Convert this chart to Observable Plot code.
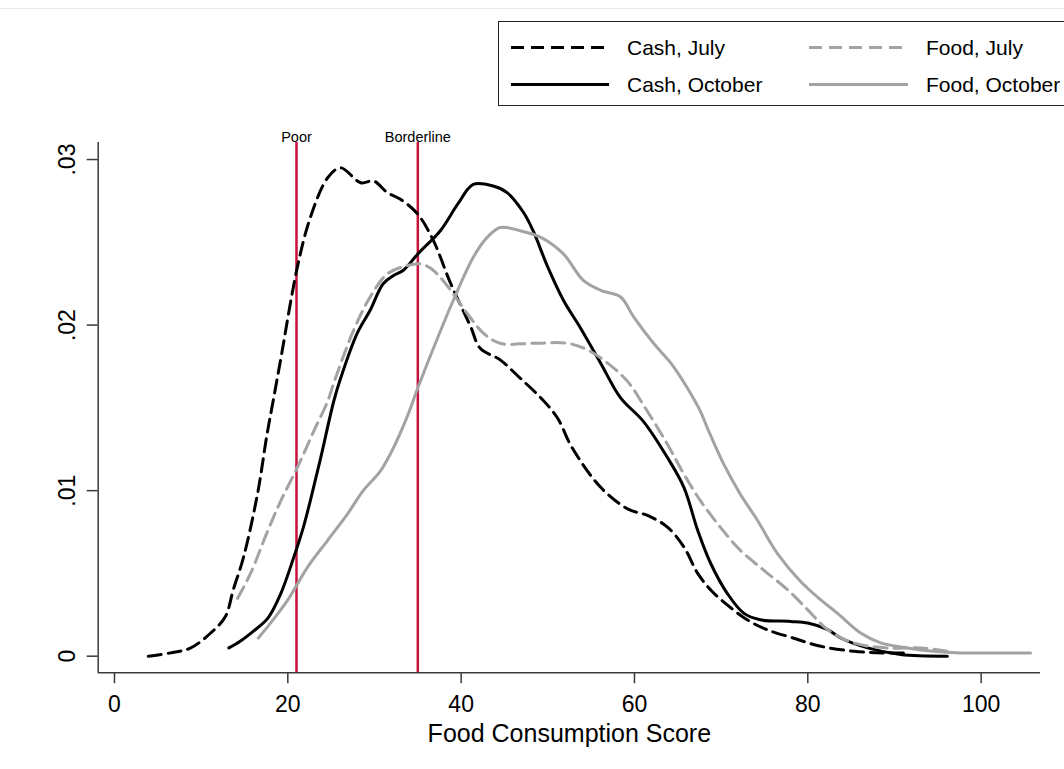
<!DOCTYPE html>
<html>
<head>
<meta charset="utf-8">
<script src="https://cdn.jsdelivr.net/npm/d3@7"></script>
<script src="https://cdn.jsdelivr.net/npm/@observablehq/plot@0.6"></script>
<style>
  html, body { margin: 0; padding: 0; background: #fff; }
  #wrap { position: relative; width: 1064px; height: 769px; overflow: hidden; font-family: "Liberation Sans", Arial, sans-serif; }
  #topline { position: absolute; left: 0; top: 8px; width: 1064px; height: 0; border-top: 1px solid #e3ebee; }
  #legend { position: absolute; left: 498px; top: 21px; width: 600px; height: 85px; border: 1.5px solid #222; box-sizing: border-box; background: #fff; }
  #legend svg { position: absolute; left: 0; top: 0; }
</style>
</head>
<body>
<div id="wrap">
  <div id="chart"></div>
  <div id="topline"></div>
  <div id="legend"></div>
</div>
<script>
// ---- Data ----
const cashJulyX = [3.9, 6.5, 8.8, 11.1, 12.8, 13.7, 14.9, 16.5, 17.6, 18.3, 19.2, 21.1, 22.6, 24.6, 26.1, 28.4, 29.9, 31.5, 33.0, 35.0, 36.8, 38.8, 41.1, 42.2, 44.5, 46.8, 49.2, 51.1, 52.8, 56.1, 59.2, 61.5, 63.8, 65.7, 67.3, 68.8, 70.7, 73.0, 75.3, 78.3, 81.5, 85.3, 88.7, 91.8];
const cashJulyY = [0.0000, 0.0002, 0.0005, 0.0014, 0.0024, 0.0040, 0.0060, 0.0098, 0.0134, 0.0154, 0.0180, 0.0235, 0.0265, 0.0289, 0.0295, 0.0286, 0.0287, 0.0280, 0.0276, 0.0267, 0.0251, 0.0225, 0.0199, 0.0186, 0.0179, 0.0168, 0.0156, 0.0144, 0.0126, 0.0102, 0.0089, 0.0085, 0.0078, 0.0066, 0.0050, 0.0040, 0.0031, 0.0022, 0.0016, 0.0011, 0.0006, 0.0003, 0.0002, 0.0002];

const cashOctX = [13.2, 14.5, 16.0, 17.7, 19.2, 20.7, 21.8, 22.6, 23.8, 25.3, 26.1, 28.0, 29.5, 31.0, 32.2, 33.3, 35.0, 37.6, 39.6, 41.4, 43.7, 45.3, 47.2, 48.3, 50.0, 51.8, 53.8, 56.1, 58.4, 61.0, 63.8, 65.7, 67.3, 68.8, 70.7, 72.6, 74.5, 78.0, 80.0, 82.3, 83.8, 86.9, 90.7, 96.1];
const cashOctY = [0.0005, 0.0009, 0.0015, 0.0023, 0.0038, 0.0060, 0.0078, 0.0094, 0.0120, 0.0154, 0.0168, 0.0195, 0.0209, 0.0225, 0.0230, 0.0233, 0.0243, 0.0257, 0.0273, 0.0285, 0.0284, 0.0280, 0.0268, 0.0257, 0.0235, 0.0215, 0.0198, 0.0177, 0.0156, 0.0142, 0.0120, 0.0102, 0.0076, 0.0056, 0.0038, 0.0026, 0.0022, 0.0021, 0.0020, 0.0016, 0.0011, 0.0005, 0.0001, 0.0000];

const foodJulyX = [14.2, 15.7, 17.7, 19.2, 21.1, 23.0, 24.6, 25.3, 27.6, 29.5, 31.5, 33.8, 35.3, 36.8, 38.8, 40.7, 42.6, 44.5, 48.3, 52.3, 54.6, 56.9, 59.2, 61.0, 63.8, 65.7, 67.6, 69.9, 72.2, 74.9, 77.7, 80.0, 82.3, 85.3, 89.2, 93.0, 96.1];
const foodJulyY = [0.0035, 0.0050, 0.0076, 0.0094, 0.0114, 0.0136, 0.0154, 0.0165, 0.0197, 0.0217, 0.0231, 0.0236, 0.0237, 0.0233, 0.0221, 0.0207, 0.0195, 0.0189, 0.0189, 0.0189, 0.0185, 0.0177, 0.0166, 0.0152, 0.0128, 0.0110, 0.0094, 0.0078, 0.0064, 0.0052, 0.0040, 0.0028, 0.0016, 0.0008, 0.0005, 0.0005, 0.0003];

const foodOctX = [16.6, 18.0, 20.0, 22.3, 24.6, 26.9, 28.7, 30.7, 32.2, 33.8, 35.0, 36.8, 39.1, 41.4, 43.0, 44.5, 46.8, 49.2, 51.8, 54.1, 56.1, 58.4, 59.9, 62.2, 64.2, 66.1, 67.6, 68.4, 70.3, 72.2, 74.2, 76.5, 79.2, 81.5, 83.4, 86.1, 88.4, 91.5, 94.5, 97.6, 100.3, 105.7];
const foodOctY = [0.0011, 0.0020, 0.0034, 0.0054, 0.0070, 0.0086, 0.0100, 0.0112, 0.0126, 0.0145, 0.0162, 0.0186, 0.0215, 0.0241, 0.0253, 0.0259, 0.0257, 0.0253, 0.0243, 0.0227, 0.0221, 0.0217, 0.0205, 0.0189, 0.0177, 0.0162, 0.0148, 0.0138, 0.0116, 0.0098, 0.0082, 0.0062, 0.0045, 0.0034, 0.0026, 0.0014, 0.0008, 0.0005, 0.0003, 0.0002, 0.0002, 0.0002];

const seriesNames = ["Cash, July", "Cash, October", "Food, July", "Food, October"];
const cutoffValues = [21, 35];
const cutoffLabels = ["Poor", "Borderline"];
const xTicks = [0, 20, 40, 60, 80, 100];
const yTicks = [0, 0.01, 0.02, 0.03];
const xTitle = "Food Consumption Score";

// ---- Styles ----
const styles = {
  "Cash, July":    {stroke: "#000", dash: "13,7"},
  "Cash, October": {stroke: "#000", dash: null},
  "Food, July":    {stroke: "#a3a3a3", dash: "13,7"},
  "Food, October": {stroke: "#a3a3a3", dash: null}
};
const red = "#c8123c";
const axisColor = "#3a3a3a";

function toRows(xs, ys, name) { return xs.map((x, i) => ({x, y: ys[i], series: name})); }
const seriesData = {
  "Cash, July": toRows(cashJulyX, cashJulyY, "Cash, July"),
  "Cash, October": toRows(cashOctX, cashOctY, "Cash, October"),
  "Food, July": toRows(foodJulyX, foodJulyY, "Food, July"),
  "Food, October": toRows(foodOctX, foodOctY, "Food, October")
};
const cutoffs = cutoffValues.map((v, i) => ({value: v, label: cutoffLabels[i]}));
const yFmt = d => d === 0 ? "0" : d3.format(".2f")(d).replace(/^0/, "");

const xDomain = [-1.88, 106.85];
const yDomain = [-0.001003, 0.03103];

const lineMarks = seriesNames.map(name => Plot.line(seriesData[name], {
  x: "x", y: "y",
  stroke: styles[name].stroke,
  strokeWidth: 3,
  strokeDasharray: styles[name].dash,
  curve: "catmull-rom"
}));

const chart = Plot.plot({
  width: 1064,
  height: 769,
  marginLeft: 97.7,
  marginRight: 24,
  marginTop: 142,
  marginBottom: 96.7,
  style: {fontFamily: "'Liberation Sans', Arial, sans-serif", background: "transparent", overflow: "visible"},
  x: {domain: xDomain},
  y: {domain: yDomain},
  marks: [
    Plot.ruleX(cutoffs, {x: "value", stroke: red, strokeWidth: 2.5}),
    Plot.text(cutoffs, {x: "value", text: "label", frameAnchor: "top", lineAnchor: "bottom", dy: -1, fontSize: 14.5, fill: "#000"}),
    ...lineMarks,
    Plot.ruleY([yDomain[0]], {stroke: axisColor, strokeWidth: 1.5}),
    Plot.ruleX([xDomain[0]], {stroke: axisColor, strokeWidth: 1.5}),
    Plot.axisX({ticks: xTicks, tickSize: 11, tickPadding: 12, fontSize: 23, label: null, stroke: axisColor, strokeWidth: 1.5, fill: "#000", tickFormat: d => String(d)}),
    Plot.axisY({ticks: yTicks, tickSize: 11, label: null, stroke: axisColor, strokeWidth: 1.5, fill: "none"}),
    Plot.text(yTicks, {y: d => d, text: yFmt, frameAnchor: "left", rotate: -90, dx: -23, textAnchor: "middle", lineAnchor: "bottom", fontSize: 23, fill: "#000"}),
    Plot.text([xTitle], {frameAnchor: "bottom", dy: 69.5, lineAnchor: "bottom", textAnchor: "middle", fontSize: 25, fill: "#000"})
  ]
});
document.getElementById("chart").appendChild(chart);

// ---- Legend ----
const legend = d3.select("#legend").append("svg").attr("width", 600).attr("height", 85);
const legendPos = [
  {name: "Cash, July", x0: 12, x1: 110, tx: 128, y: 25.5},
  {name: "Cash, October", x0: 12, x1: 110, tx: 128, y: 62.5},
  {name: "Food, July", x0: 310, x1: 409, tx: 427, y: 25.5},
  {name: "Food, October", x0: 310, x1: 409, tx: 427, y: 62.5}
];
legendPos.forEach(p => {
  const st = styles[p.name];
  legend.append("line").attr("x1", p.x0).attr("x2", p.x1).attr("y1", p.y).attr("y2", p.y)
    .attr("stroke", st.stroke).attr("stroke-width", 3).attr("stroke-dasharray", st.dash);
  legend.append("text").attr("x", p.tx).attr("y", p.y).attr("dy", "0.35em")
    .attr("font-size", 21).attr("font-family", "'Liberation Sans', Arial, sans-serif").attr("fill", "#000").text(p.name);
});
</script>
</body>
</html>
